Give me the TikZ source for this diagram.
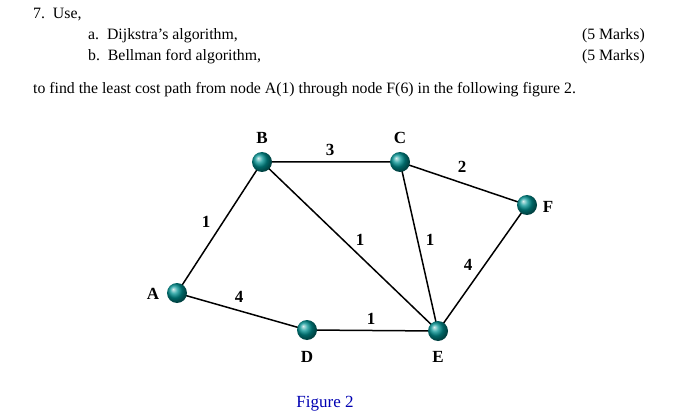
\documentclass[tikz,border=0pt]{standalone}
\usepackage{fontspec}
\setmainfont{Liberation Serif}
\begin{document}
\begin{tikzpicture}[x=1pt,y=-1pt,
  vtx/.style={circle,minimum size=20pt,inner sep=0pt,ball color=teal!85!cyan,shading=ball},
  lbl/.style={font=\fontsize{17}{19}\selectfont\bfseries},
  txt/.style={font=\fontsize{15.8}{18}\selectfont,inner sep=0pt},
  edge/.style={line width=1.5pt}]
\useasboundingbox (0,0) rectangle (675,417);
\node[txt,anchor=west] (t1) at (33,15) {7.\ \ Use,};
\node[txt,anchor=west] (t2) at (88,36) {a.\ \ Dijkstra’s algorithm,};
\node[txt,anchor=east] (t3) at (645,36) {(5 Marks)};
\node[txt,anchor=west] (t4) at (88,57) {b.\ \ Bellman ford algorithm,};
\node[txt,anchor=east] (t5) at (645,57) {(5 Marks)};
\node[txt,anchor=west] (t6) at (33,90) {to find the least cost path from node A(1) through node F(6) in the following figure 2.};
\coordinate (A) at (177,293);
\coordinate (B) at (262,162);
\coordinate (C) at (400,162);
\coordinate (F) at (527,205);
\coordinate (D) at (307,330);
\coordinate (E) at (438,331);
\draw[edge] (A)--(B) (B)--(C) (C)--(F) (B)--(E) (C)--(E) (F)--(E) (A)--(D) (D)--(E);
\foreach \n in {A,B,C,D,E,F} \node[vtx] (n\n) at (\n) {};
\node[lbl] (lA) at (153,294) {A};
\node[lbl] (lB) at (262,138) {B};
\node[lbl] (lC) at (400,138) {C};
\node[lbl] (lF) at (548,207) {F};
\node[lbl] (lD) at (307,357) {D};
\node[lbl] (lE) at (438,357) {E};
\node[lbl] (w1) at (206,222) {1};
\node[lbl] (w2) at (330,150) {3};
\node[lbl] (w3) at (462,167) {2};
\node[lbl] (w4) at (360,240) {1};
\node[lbl] (w5) at (430,240) {1};
\node[lbl] (w6) at (468,265) {4};
\node[lbl] (w7) at (239,297) {4};
\node[lbl] (w8) at (371,319) {1};
\node[txt,text=blue!70!black,font=\fontsize{17}{19}\selectfont] (fig) at (325,404) {Figure 2};
\end{tikzpicture}
\end{document}
